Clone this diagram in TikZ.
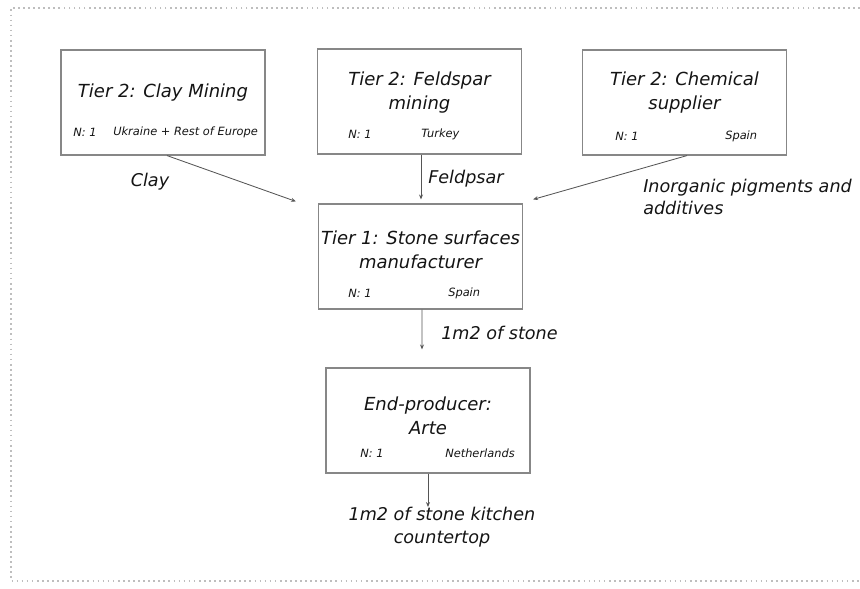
\documentclass[tikz,border=0pt]{standalone}
\usepackage{fontspec}
\setmainfont{DejaVu Sans}
\usepackage{tikz}
\usetikzlibrary{arrows.meta, calc, positioning}
\definecolor{frameGray}{RGB}{190, 190, 190}
\definecolor{boxGray}{RGB}{135, 135, 135}
\definecolor{lineGray}{RGB}{85, 85, 85}
\definecolor{inkGray}{RGB}{20, 20, 20}

\begin{document}
\begin{tikzpicture}[
    x=0.025cm, y=-0.025cm,
    box/.style={rectangle, draw=boxGray, line width=0.8pt,
      minimum width=5.1cm, minimum height=2.625cm, inner sep=0pt},
    title/.style={align=center, text=inkGray, inner sep=0pt,
      font=\fontsize{12.8}{17.4}\selectfont\itshape},
    info/.style={anchor=west, text=inkGray, inner sep=0pt,
      font=\fontsize{8.1}{9}\selectfont\itshape},
    flow/.style={align=left, text=inkGray, inner sep=0pt,
      font=\fontsize{12.5}{16}\selectfont\itshape},
    arrow/.style={-{Stealth[length=3.5pt, width=2.8pt]}, lineGray, line width=0.6pt},
  ]
    \useasboundingbox (0,0) rectangle (860,588);
    \draw[frameGray, line width=1.2pt, dash pattern=on 1.2pt off 2.4pt]
      (860,8) -- (11,8) -- (11,581) -- (860,581);

    % suppliers
    \node[box] (clay) at (163,102.5) {};
    \node[box] (feld) at (419.5,101.5) {};
    \node[box] (chem) at (684.5,102.5) {};
    \node[title] (clayT) at (163,93) {Tier 2: Clay Mining};
    \node[title] (feldT) at (419.5,92.5) {Tier 2: Feldspar\\mining};
    \node[title] (chemT) at (684.5,92.5) {Tier 2: Chemical\\supplier};
    \node[info] (clayN) at (73,132) {N: 1};
    \node[info] (clayC) at (113,132) {Ukraine + Rest of Europe};
    \node[info] (feldN) at (348,134) {N: 1};
    \node[info] (feldC) at (421,134) {Turkey};
    \node[info] (chemN) at (615,136) {N: 1};
    \node[info] (chemC) at (725,136) {Spain};

    % manufacturer and end-producer
    \node[box] (tier1) at (420.5,256.5) {};
    \node[title] (tier1T) at (420.5,250) {Tier 1: Stone surfaces\\manufacturer};
    \node[info] (tier1N) at (348,293) {N: 1};
    \node[info] (tier1C) at (448,293) {Spain};

    \node[box] (endp) at (428,420.5) {};
    \node[title] (endpT) at (428,416) {End-producer:\\Arte};
    \node[info] (endpN) at (360,453) {N: 1};
    \node[info] (endpC) at (445,453) {Netherlands};

    \node[flow, align=center, anchor=north] (product) at (442,507) {1m2 of stone kitchen\\countertop};

    \coordinate (clayIn) at ($(tier1.north west)+(-22,-2)$);
    \coordinate (chemIn) at ($(tier1.north east)+(10,-4)$);
    \coordinate (stoneOut) at ($(endp.north)+(-6,-18)$);

    \draw[arrow] ($(clay.south)+(4,0)$) -- (clayIn);
    \draw[arrow] ($(feld.south)+(1.5,0)$) -- ($(tier1.north)+(0.5,-4)$);
    \draw[arrow] ($(chem.south)+(2.5,0)$) -- (chemIn);
    \draw[arrow] ($(tier1.south)+(1.5,0)$) -- (stoneOut);
    \draw[arrow] (endp.south) -- (endp.south |- product.north);

    \node[flow] (clayL) at (150,182) {Clay};
    \node[flow, anchor=west] (feldL) at (428,179) {Feldpsar};
    \node[flow, anchor=west] (chemL) at (643,197) {Inorganic pigments and\\additives};
    \node[flow, anchor=west] (stoneL) at (441,333) {1m2 of stone};
  \end{tikzpicture}
\end{document}
